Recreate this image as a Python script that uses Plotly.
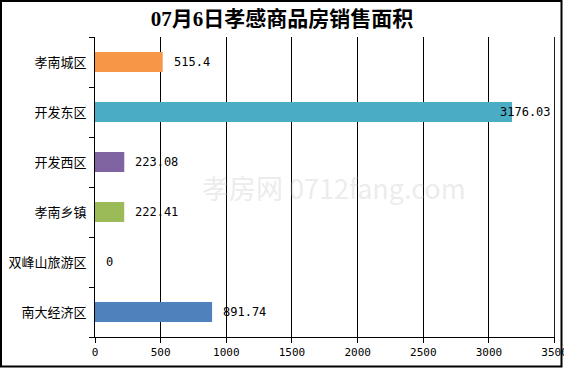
import plotly.graph_objects as go

categories = ["孝南城区", "开发东区", "开发西区", "孝南乡镇", "双峰山旅游区", "南大经济区"]
values = [515.4, 3176.03, 223.08, 222.41, 0, 891.74]
value_labels = ["515.4", "3176.03", "223.08", "222.41", "0", "891.74"]
colors = ["#F79646", "#4BACC6", "#8064A2", "#9BBB59", "#4F81BD", "#4F81BD"]
x_ticks = [0, 500, 1000, 1500, 2000, 2500, 3000, 3500]
title = "07月6日孝感商品房销售面积"

W, H = 564, 369
ML, MR, MT, MB = 95, 9, 37, 32
PW, PH = W - ML - MR, H - MT - MB

fig = go.Figure()
fig.add_trace(go.Bar(
    y=categories, x=values, orientation="h",
    marker=dict(color=colors, line=dict(width=0)),
    hoverinfo="skip",
))

for c, v, t in zip(categories, values, value_labels):
    big = v > 3000
    fig.add_annotation(
        x=v, y=c, xref="x", yref="y", text=t, showarrow=False,
        xanchor="right" if big else "left",
        xshift=41 if big else 9,
        font=dict(family="DejaVu Sans Mono, monospace", size=12, color="#000"),
    )

# watermark
fig.add_annotation(
    x=0.52, y=0.5, xref="paper", yref="paper",
    text="孝房网 0712fang.com", showarrow=False,
    font=dict(family="Noto Sans CJK SC", size=27, color="rgba(190,190,190,0.3)"),
)

# right-most gridline at the range end
fig.add_shape(type="line", xref="x", yref="paper", x0=x_ticks[-1], x1=x_ticks[-1], y0=0, y1=1,
              line=dict(color="#000", width=1))

# outer border
fig.add_shape(
    type="rect", xref="paper", yref="paper",
    x0=-(ML - 1) / PW, x1=1 + (MR - 2.5) / PW,
    y0=-(MB - 2.5) / PH, y1=1 + (MT - 1) / PH,
    line=dict(color="#000", width=2), layer="above",
)

fig.update_layout(
    width=W, height=H,
    margin=dict(l=ML, r=MR, t=MT, b=MB, autoexpand=False),
    paper_bgcolor="white", plot_bgcolor="white",
    showlegend=False,
    bargap=0.6,
    title=dict(text="<b>" + title + "</b>", x=0.5, xref="container", y=0.95, yref="container",
               xanchor="center", yanchor="middle",
               font=dict(family="Liberation Serif, Noto Sans CJK SC", size=21, color="#000")),
    xaxis=dict(
        range=[0, 3503], tickvals=x_ticks, ticktext=[str(v) for v in x_ticks],
        showgrid=True, gridcolor="#000", gridwidth=1,
        showline=True, linecolor="#000", linewidth=1,
        ticks="outside", ticklen=5, tickcolor="#000",
        zeroline=False, automargin=False, ticklabeloverflow="allow",
        tickfont=dict(family="DejaVu Sans Mono, monospace", size=11, color="#000"),
        fixedrange=True,
    ),
    yaxis=dict(
        categoryorder="array", categoryarray=categories[::-1],
        showline=True, linecolor="#000", linewidth=1,
        ticks="outside", ticklen=5, tickcolor="#000", tickson="boundaries",
        showgrid=False, automargin=False,
        tickfont=dict(family="Noto Sans CJK SC", size=13, color="#000"),
        ticklabelstandoff=5,
        fixedrange=True,
    ),
)

fig.write_html("out.html", config={"displayModeBar": False, "staticPlot": True},
               post_script="document.body.style.margin='0';document.body.style.overflow='hidden';")
